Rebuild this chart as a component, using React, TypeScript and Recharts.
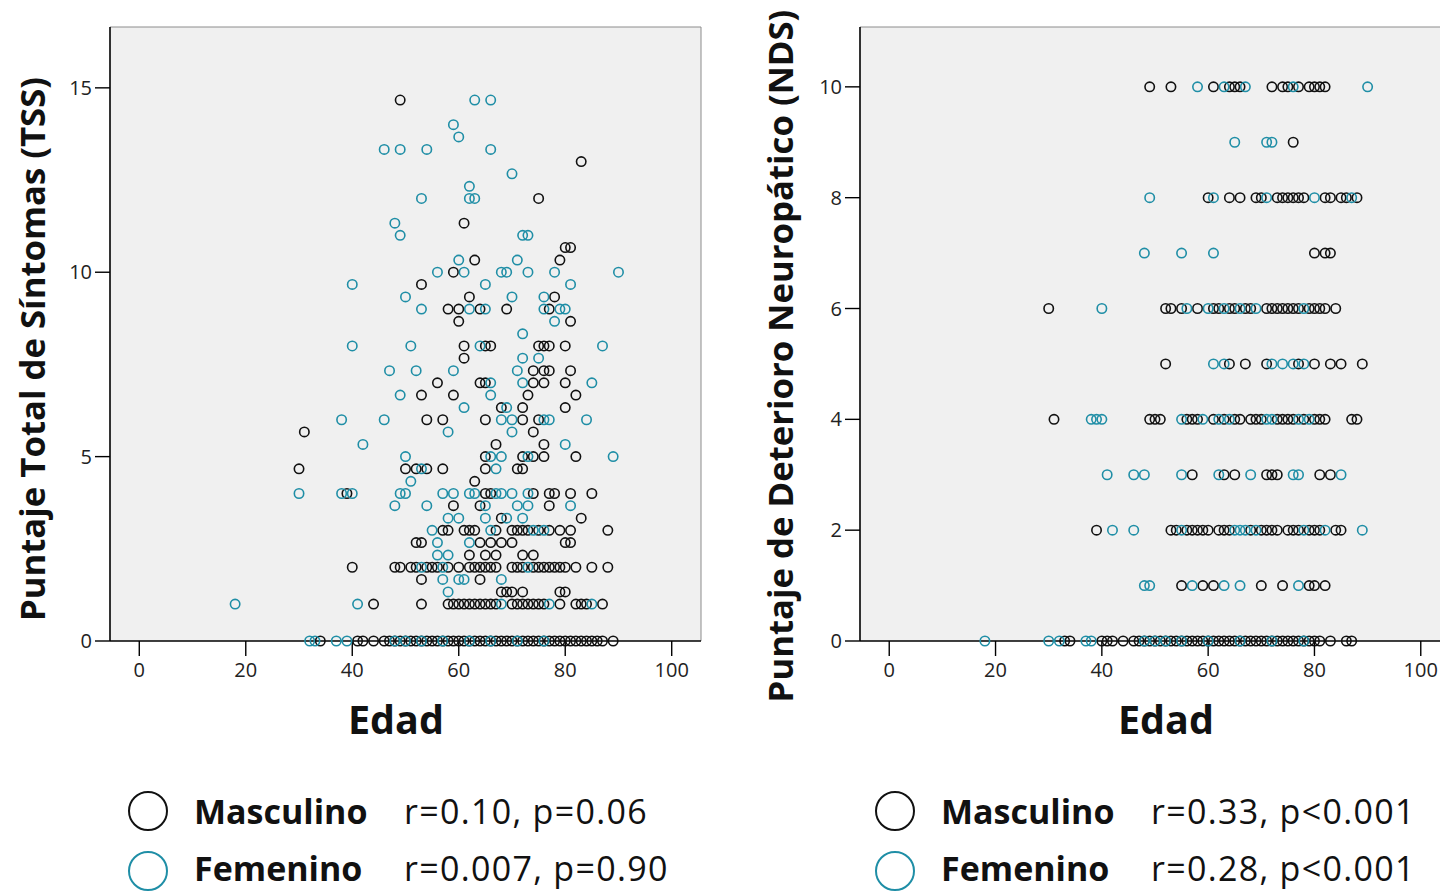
import React from 'react';
import { ScatterChart, Scatter, XAxis, YAxis, CartesianGrid, ReferenceLine } from 'recharts';

// ---- Data: rows of [value, ages[]] ----
const tssMasculino: Array<[number, number[]]> = [
  [14.67, [49]],
  [13.0, [83]],
  [12.0, [75]],
  [11.33, [61]],
  [10.67, [80, 81]],
  [10.33, [63, 79]],
  [10.0, [59]],
  [9.67, [53]],
  [9.33, [62, 78]],
  [9.0, [58, 60, 64, 69, 77]],
  [8.67, [60, 81]],
  [8.0, [61, 65, 66, 75, 76, 77, 80]],
  [7.67, [61]],
  [7.33, [74, 76, 77, 81]],
  [7.0, [56, 64, 65, 74, 76, 80]],
  [6.67, [53, 59, 73, 82]],
  [6.33, [68, 72, 80]],
  [6.0, [54, 57, 65, 72, 75]],
  [5.67, [31, 74]],
  [5.33, [67, 76]],
  [5.0, [65, 72, 74, 76, 82]],
  [4.67, [30, 50, 52, 54, 57, 65, 71, 72]],
  [4.33, [63]],
  [4.0, [39, 65, 66, 74, 77, 78, 81, 85]],
  [3.67, [59, 64, 77]],
  [3.33, [68, 83]],
  [3.0, [57, 58, 61, 62, 63, 67, 70, 71, 72, 73, 75, 77, 79, 81, 88]],
  [2.67, [52, 53, 64, 66, 68, 70, 80, 81]],
  [2.33, [62, 65, 67, 72, 74]],
  [2.0, [40, 48, 49, 51, 52, 54, 55, 56, 58, 60, 62, 63, 64, 65, 66, 67, 70, 71, 72, 74, 75, 76, 77, 78, 79, 80, 82, 85, 88]],
  [1.67, [53, 64]],
  [1.33, [68, 69, 70, 72, 79, 80]],
  [1.0, [44, 53, 58, 59, 60, 61, 62, 63, 64, 65, 66, 67, 70, 71, 72, 73, 74, 75, 76, 79, 82, 83, 84, 87]],
  [0, [34, 41, 42, 44, 46, 47, 48, 49, 50, 51, 52, 53, 54, 55, 56, 57, 58, 59, 60, 61, 62, 63, 64, 65, 66, 67, 68, 69, 70, 71, 72, 73, 74, 75, 76, 77, 78, 79, 80, 81, 82, 83, 84, 85, 86, 87, 89]],
];

const tssFemenino: Array<[number, number[]]> = [
  [14.67, [63, 66]],
  [14.0, [59]],
  [13.67, [60]],
  [13.33, [46, 49, 54, 66]],
  [12.67, [70]],
  [12.33, [62]],
  [12.0, [53, 62, 63]],
  [11.33, [48]],
  [11.0, [49, 72, 73]],
  [10.33, [60, 71]],
  [10.0, [56, 61, 68, 69, 73, 78, 90]],
  [9.67, [40, 65, 81]],
  [9.33, [50, 70, 76]],
  [9.0, [53, 62, 65, 76, 79, 80]],
  [8.67, [78]],
  [8.33, [72]],
  [8.0, [40, 51, 64, 87]],
  [7.67, [72, 75]],
  [7.33, [47, 52, 59, 71]],
  [7.0, [66, 72, 85]],
  [6.67, [49, 66]],
  [6.33, [61, 69]],
  [6.0, [38, 46, 68, 70, 76, 77, 84]],
  [5.67, [58, 70]],
  [5.33, [42, 80]],
  [5.0, [50, 66, 68, 73, 89]],
  [4.67, [53, 67]],
  [4.33, [51]],
  [4.0, [30, 38, 40, 49, 50, 57, 59, 62, 63, 67, 68, 70, 73]],
  [3.67, [48, 54, 65, 71, 73, 81]],
  [3.33, [58, 60, 65, 69, 72]],
  [3.0, [55, 66, 74, 76]],
  [2.67, [56, 62]],
  [2.33, [56, 58]],
  [2.0, [53, 57, 73]],
  [1.67, [57, 60, 61, 68]],
  [1.33, [58]],
  [1.0, [18, 41, 68, 77, 85]],
  [0, [32, 33, 37, 39, 48, 50, 53, 57, 62, 66, 71, 76]],
];

const ndsMasculino: Array<[number, number[]]> = [
  [10, [49, 53, 61, 64, 65, 66, 72, 74, 75, 77, 79, 80, 81, 82]],
  [9, [76]],
  [8, [60, 64, 66, 69, 70, 73, 74, 75, 76, 77, 78, 82, 83, 85, 86, 88]],
  [7, [80, 82, 83]],
  [6, [30, 52, 53, 55, 58, 61, 62, 64, 65, 67, 68, 71, 72, 73, 74, 75, 76, 77, 79, 80, 81, 82, 84]],
  [5, [52, 64, 67, 71, 77, 80, 83, 85, 89]],
  [4, [31, 49, 50, 51, 56, 57, 58, 61, 63, 65, 66, 68, 69, 70, 73, 74, 75, 76, 78, 80, 81, 82, 87, 88]],
  [3, [57, 63, 65, 71, 72, 73, 81, 83]],
  [2, [39, 53, 54, 56, 57, 58, 59, 60, 62, 63, 64, 68, 70, 71, 72, 73, 75, 76, 77, 79, 80, 81, 84, 85]],
  [1, [55, 59, 61, 70, 74, 79, 80, 82]],
  [0, [33, 34, 40, 41, 42, 44, 46, 47, 48, 49, 50, 51, 52, 53, 54, 55, 56, 57, 58, 59, 60, 61, 62, 63, 64, 65, 66, 67, 68, 69, 70, 71, 72, 73, 74, 75, 76, 77, 78, 79, 80, 81, 83, 86, 87]],
];

const ndsFemenino: Array<[number, number[]]> = [
  [10, [58, 63, 67, 76, 90]],
  [9, [65, 71, 72]],
  [8, [49, 61, 71, 80, 87]],
  [7, [48, 55, 61]],
  [6, [40, 56, 60, 63, 66, 69, 78]],
  [5, [61, 63, 72, 74, 76, 78]],
  [4, [38, 39, 40, 55, 59, 62, 64, 71, 72, 77, 79]],
  [3, [41, 46, 48, 55, 62, 68, 76, 77, 85]],
  [2, [42, 46, 55, 65, 66, 67, 69, 78, 82, 89]],
  [1, [48, 49, 57, 63, 66, 77]],
  [0, [18, 30, 32, 37, 38, 48, 50, 52, 55, 60, 66, 72, 78]],
];

const ageTicks = [0, 20, 40, 60, 80, 100];
const tssTicks = [0, 5, 10, 15];
const ndsTicks = [0, 2, 4, 6, 8, 10];

const legendLeft = [
  { name: 'Masculino', stat: 'r=0.10, p=0.06' },
  { name: 'Femenino', stat: 'r=0.007, p=0.90' },
];
const legendRight = [
  { name: 'Masculino', stat: 'r=0.33, p<0.001' },
  { name: 'Femenino', stat: 'r=0.28, p<0.001' },
];

const MALE = '#111111';
const FEMALE = '#1f8ea6';
const FONT = '"Open Sans", "Noto Sans", sans-serif';

const flatten = (rows: Array<[number, number[]]>) =>
  rows.flatMap(([v, ages]) => ages.map((a) => ({ x: a, y: v })));

const ringShape = (color: string) => (p: any) =>
  <circle cx={p.cx} cy={p.cy} r={4.7} fill="none" stroke={color} strokeWidth={1.6} />;

const X_DOMAIN: [number, number] = [-5.5, 105.5];

function Panel({ male, female, yMax, yTicks, width, left }: any) {
  return (
    <div style={{ position: 'absolute', left, top: 0 }}>
      <ScatterChart width={width} height={700} margin={{ top: 27, right: width === 720 ? 19 : 0, bottom: 0, left: 0 }}>
        <CartesianGrid fill="#f0f0f0" horizontal={false} vertical={false} />
        <ReferenceLine y={yMax} stroke="#8c8c8c" strokeWidth={1} />
        <ReferenceLine x={X_DOMAIN[1]} stroke="#8c8c8c" strokeWidth={1} />
        <XAxis
          type="number"
          dataKey="x"
          domain={X_DOMAIN}
          ticks={ageTicks}
          height={59}
          tickSize={15}
          tickMargin={7}
          axisLine={{ stroke: '#000', strokeWidth: 1.6 }}
          tickLine={{ stroke: '#000', strokeWidth: 1.4 }}
          tick={{ fill: '#222', fontSize: 20, fontFamily: FONT }}
          interval={0}
        />
        <YAxis
          type="number"
          dataKey="y"
          domain={[0, yMax]}
          ticks={yTicks}
          width={110}
          tickSize={15}
          tickMargin={3}
          axisLine={{ stroke: '#000', strokeWidth: 1.6 }}
          tickLine={{ stroke: '#000', strokeWidth: 1.4 }}
          tick={{ fill: '#222', fontSize: 20, fontFamily: FONT }}
          interval={0}
        />
        <Scatter data={flatten(male)} isAnimationActive={false} shape={ringShape(MALE)} />
        <Scatter data={flatten(female)} isAnimationActive={false} shape={ringShape(FEMALE)} />
      </ScatterChart>
    </div>
  );
}

function RotLabel({ text, cx, cy }: { text: string; cx: number; cy: number }) {
  const w = 800;
  const h = 50;
  return (
    <div
      style={{
        position: 'absolute',
        left: cx - w / 2,
        top: cy - h / 2,
        width: w,
        height: h,
        lineHeight: h + 'px',
        textAlign: 'center',
        transform: 'rotate(-90deg)',
        fontFamily: FONT,
        fontWeight: 700,
        fontSize: 34.7,
        color: '#111',
        whiteSpace: 'nowrap',
      }}
    >
      {text}
    </div>
  );
}

function Title({ text, cx, cy }: { text: string; cx: number; cy: number }) {
  return (
    <div
      style={{
        position: 'absolute',
        left: cx - 150,
        top: cy - 30,
        width: 300,
        height: 60,
        lineHeight: '60px',
        textAlign: 'center',
        fontFamily: FONT,
        fontWeight: 700,
        fontSize: 39.5,
        color: '#111',
      }}
    >
      {text}
    </div>
  );
}

function Legend({ items, x }: { items: { name: string; stat: string }[]; x: number }) {
  const colors = [MALE, FEMALE];
  const ys = [811, 871];
  const textYs = [811, 868];
  return (
    <>
      {items.map((it, i) => (
        <React.Fragment key={i}>
          <svg style={{ position: 'absolute', left: x - 24, top: ys[i] - 24 }} width={48} height={48}>
            <circle cx={24} cy={24} r={19} fill="none" stroke={colors[i]} strokeWidth={2} />
          </svg>
          <div
            style={{
              position: 'absolute',
              left: x + 46,
              top: textYs[i] - 19,
              height: 38,
              lineHeight: '38px',
              fontFamily: FONT,
              fontWeight: 700,
              fontSize: 34,
              color: '#111',
              whiteSpace: 'nowrap',
            }}
          >
            {it.name}
          </div>
          <div
            style={{
              position: 'absolute',
              left: x + 256,
              top: textYs[i] - 19,
              height: 38,
              lineHeight: '38px',
              fontFamily: FONT,
              fontWeight: 400,
              fontSize: 34,
              letterSpacing: 1.3,
              color: '#111',
              whiteSpace: 'nowrap',
            }}
          >
            {it.stat}
          </div>
        </React.Fragment>
      ))}
    </>
  );
}

export default function App() {
  return (
    <div
      style={{
        position: 'absolute',
        left: 0,
        top: 0,
        width: 1440,
        height: 891,
        overflow: 'hidden',
        background: '#fff',
      }}
    >
      <Panel male={tssMasculino} female={tssFemenino} yMax={16.65} yTicks={tssTicks} width={720} left={0} />
      <Panel male={ndsMasculino} female={ndsFemenino} yMax={11.08} yTicks={ndsTicks} width={700} left={750} />
      <RotLabel text="Puntaje Total de Síntomas (TSS)" cx={32} cy={349} />
      <RotLabel text="Puntaje de Deterioro Neuropático (NDS)" cx={780} cy={356} />
      <Title text="Edad" cx={396} cy={719} />
      <Title text="Edad" cx={1166} cy={719} />
      <Legend items={legendLeft} x={148} />
      <Legend items={legendRight} x={895} />
    </div>
  );
}
